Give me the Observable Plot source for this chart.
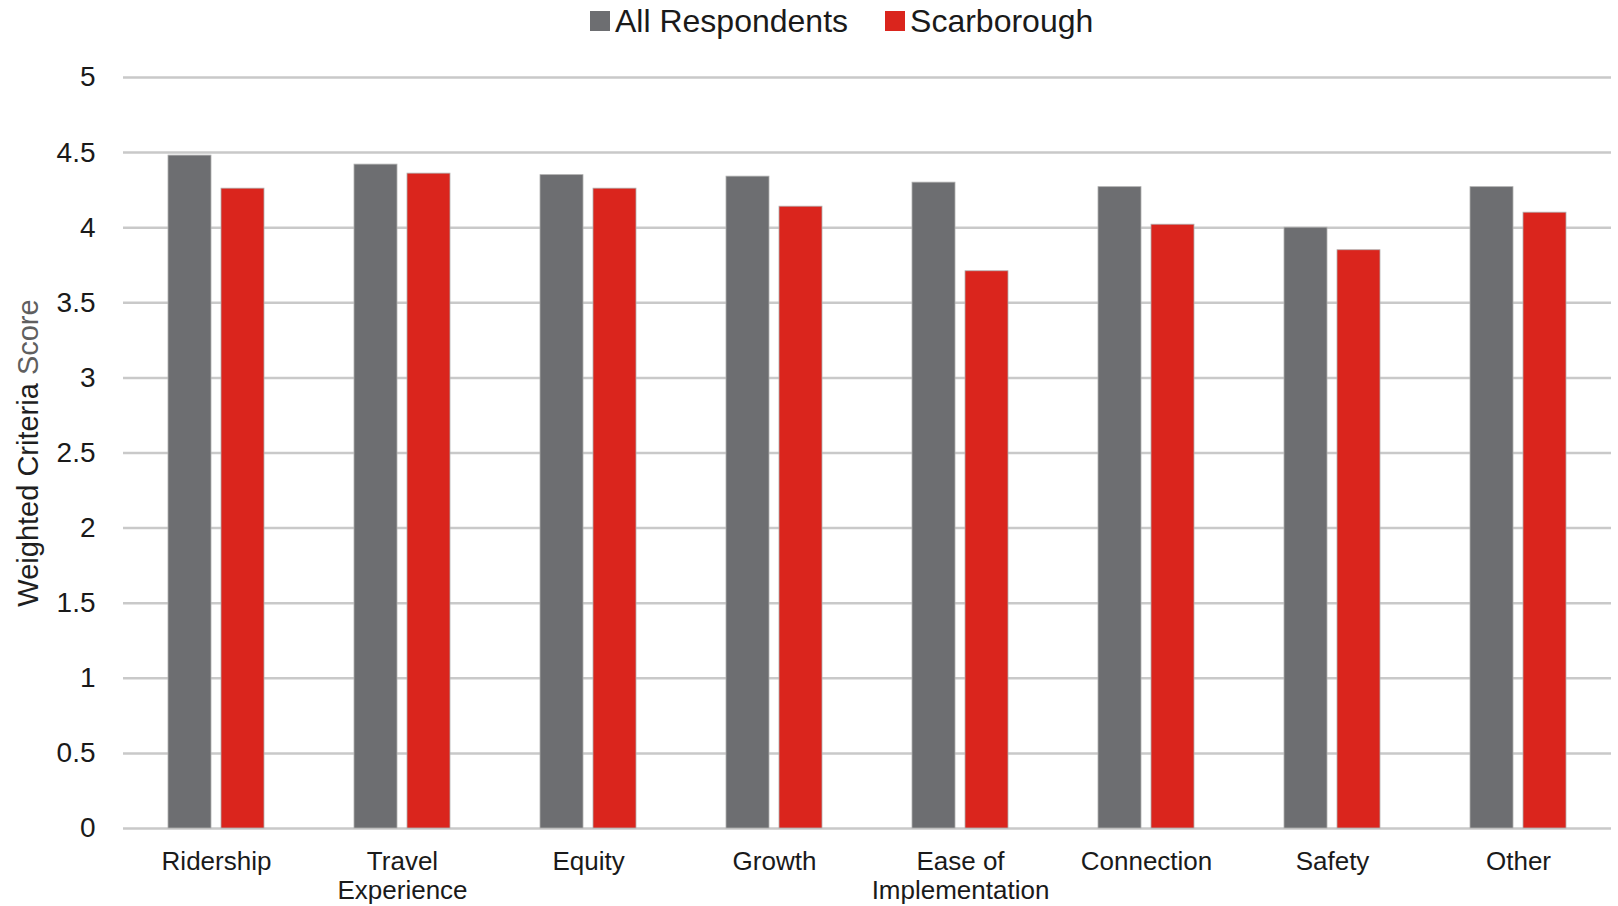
<!DOCTYPE html>
<html><head><meta charset="utf-8">
<script src="https://cdn.jsdelivr.net/npm/d3@7"></script>
<script src="https://cdn.jsdelivr.net/npm/@observablehq/plot@0.6"></script>
<style>
body{margin:0;background:#fff;font-family:"Liberation Sans",Arial,sans-serif;}
#wrap{position:relative;width:1618px;height:906px;overflow:hidden;}
#legend{position:absolute;left:590px;top:0;height:42px;display:flex;align-items:center;font-size:32px;color:#1a1a1a;white-space:nowrap;}
.sw{display:inline-block;width:20px;height:20px;margin-right:5px;}
.item{display:flex;align-items:center;margin-right:37px;}
#chart{position:absolute;left:0;top:48px;}
</style></head><body>
<div id="wrap"><div id="legend"></div><div id="chart"></div></div>
<script>
const categories = ["Ridership","Travel\nExperience","Equity","Growth","Ease of\nImplementation","Connection","Safety","Other"];
const seriesNames = ["All Respondents","Scarborough"];
const allRespondents = [4.48,4.42,4.35,4.34,4.30,4.27,4.00,4.27];
const scarborough = [4.26,4.36,4.26,4.14,3.71,4.02,3.85,4.10];
const seriesColors = ["#6d6e71","#da251d"];
const yTicks = [0,0.5,1,1.5,2,2.5,3,3.5,4,4.5,5];
const yTitle = "Weighted Criteria Score";

const data = categories.flatMap((c, i) => [
  {category: c, series: seriesNames[0], value: allRespondents[i]},
  {category: c, series: seriesNames[1], value: scarborough[i]}
]);

// legend
const legend = document.getElementById("legend");
seriesNames.forEach((s, i) => {
  const it = document.createElement("span");
  it.className = "item";
  const sw = document.createElement("span");
  sw.className = "sw";
  sw.style.background = seriesColors[i];
  it.appendChild(sw);
  it.appendChild(document.createTextNode(s));
  legend.appendChild(it);
});

const font = '"Liberation Sans", Arial, sans-serif';
const plot = Plot.plot({
  width: 1618, height: 858,
  marginLeft: 123, marginRight: 7, marginTop: 29, marginBottom: 78,
  style: {fontFamily: font, fontSize: "26px", color: "#1a1a1a", background: "#fff"},
  fx: {domain: categories, paddingInner: 0.484, paddingOuter: 0.242, label: null},
  x: {domain: seriesNames, paddingInner: 0.19, paddingOuter: 0, axis: null},
  y: {domain: [0, 5], ticks: yTicks},
  color: {domain: seriesNames, range: seriesColors},
  marks: [
    Plot.ruleY(yTicks, {stroke: "#c9c9c9", strokeWidth: 2.5, insetLeft: -45, insetRight: -45}),
    Plot.barY(data, {fx: "category", x: "series", y: "value", fill: "series", stroke: "#b0b0b0", strokeWidth: 0.8}),
    Plot.axisFx({anchor: "bottom", tickSize: 0, tickPadding: 21, fontSize: 26, lineHeight: 1.12, label: null}),
    Plot.axisY(yTicks, {tickSize: 0, tickPadding: 73, fontSize: 28, tickFormat: d => String(d),
      label: yTitle, labelAnchor: "center", labelArrow: "none", labelOffset: 151})
  ]
});
document.getElementById("chart").appendChild(plot);

// two-tone axis title
plot.querySelectorAll("text").forEach(t => {
  if (t.textContent.trim() === yTitle) {
    t.textContent = "";
    const a = document.createElementNS("http://www.w3.org/2000/svg", "tspan");
    a.textContent = "Weighted Criteria ";
    a.setAttribute("fill", "#1f1f1f");
    const b = document.createElementNS("http://www.w3.org/2000/svg", "tspan");
    b.textContent = "Score";
    b.setAttribute("fill", "#5f5f5f");
    t.appendChild(a); t.appendChild(b);
    t.setAttribute("font-size", "29");
  }
});
</script>
</body></html>
